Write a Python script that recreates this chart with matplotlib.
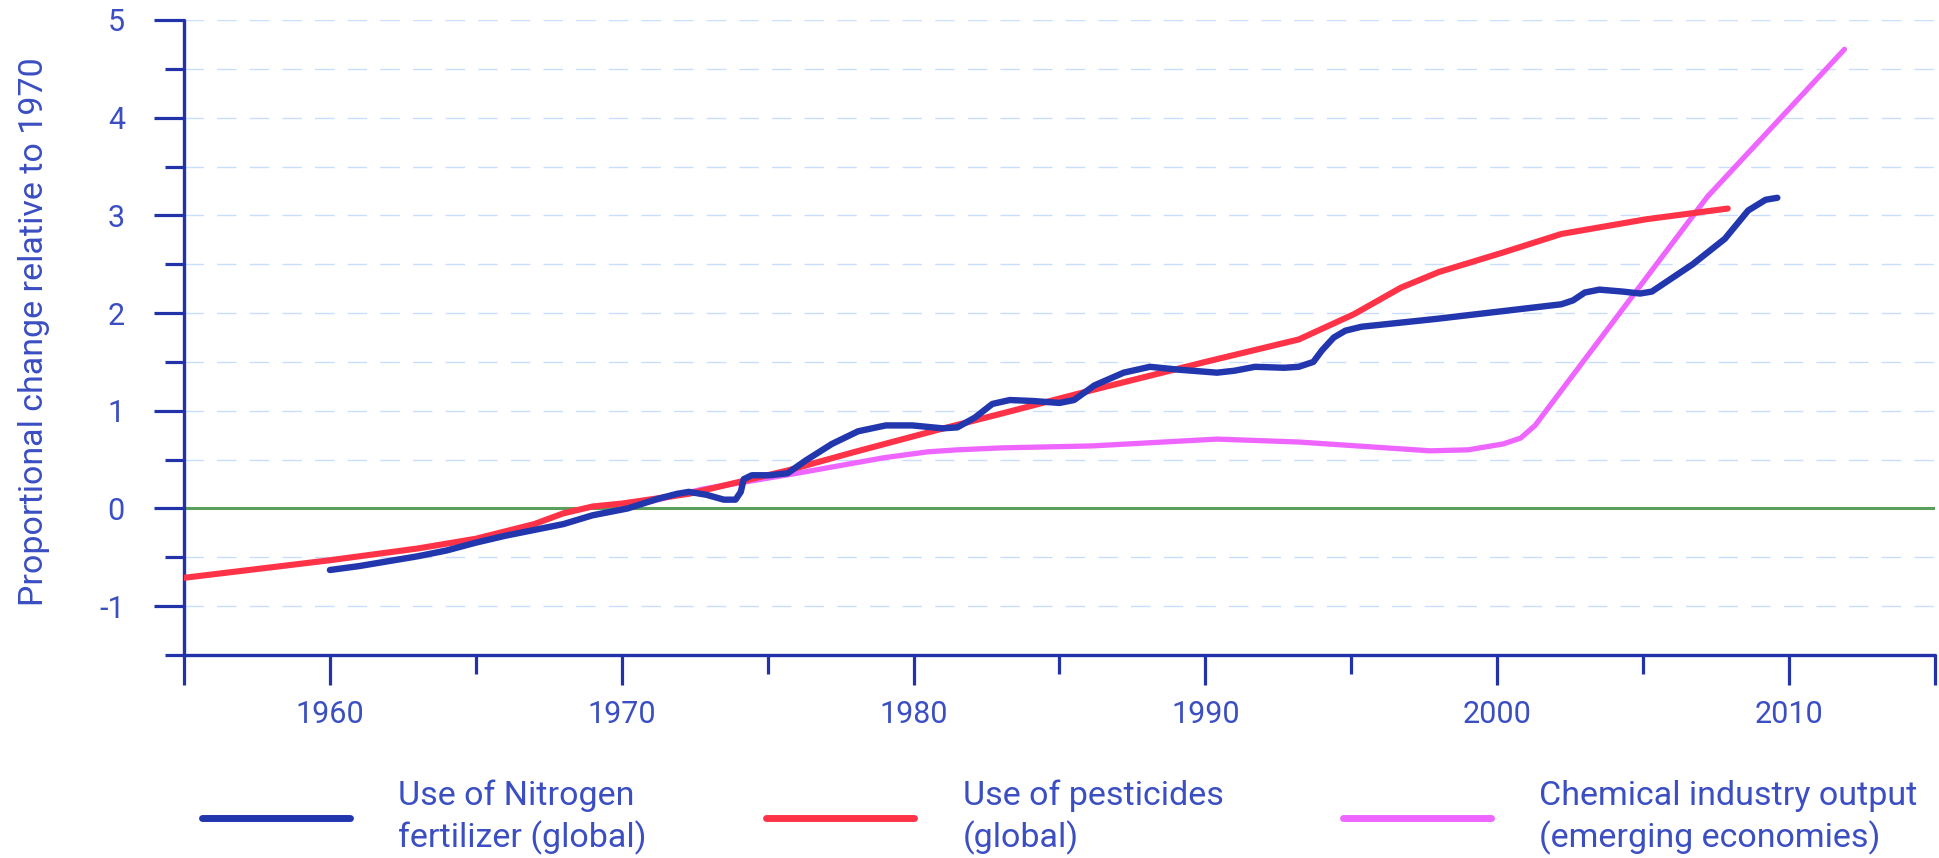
import matplotlib.pyplot as plt
from matplotlib.ticker import FixedLocator

# values (proportional change relative to 1970)
nitrogen_years = [1960, 1961, 1962, 1963, 1964, 1965, 1966, 1967, 1968, 1969,
                  1970.2, 1971.25, 1971.9, 1972.3, 1972.9, 1973.5, 1973.9,
                  1974.08, 1974.18, 1974.46, 1975.07, 1975.68, 1976.3, 1977.2,
                  1978.1, 1979.05, 1979.96, 1981.0, 1981.5, 1982.1, 1982.7,
                  1983.3, 1984.1, 1985.0, 1985.5, 1986.2, 1987.2, 1988.1,
                  1989.1, 1990.4, 1991.0, 1991.7, 1992.7, 1993.2, 1993.7,
                  1994.0, 1994.4, 1994.8, 1995.35, 1997.9, 2002.2, 2002.6,
                  2003.0, 2003.5, 2004.3, 2004.9, 2005.3, 2005.8, 2006.7,
                  2007.8, 2008.6, 2009.2, 2009.6]
nitrogen_vals = [-0.63, -0.59, -0.54, -0.49, -0.43, -0.35, -0.28, -0.22, -0.16,
                 -0.07, 0.0, 0.10, 0.15, 0.17, 0.14, 0.09, 0.09,
                 0.17, 0.30, 0.34, 0.34, 0.36, 0.49, 0.66,
                 0.79, 0.85, 0.85, 0.82, 0.83, 0.93, 1.07,
                 1.11, 1.10, 1.08, 1.11, 1.26, 1.39, 1.45,
                 1.42, 1.39, 1.41, 1.45, 1.44, 1.45, 1.50,
                 1.62, 1.75, 1.82, 1.86, 1.94, 2.09, 2.13,
                 2.21, 2.24, 2.22, 2.20, 2.22, 2.32, 2.50,
                 2.76, 3.05, 3.16, 3.18]

pesticide_years = [1955, 1960, 1963, 1965, 1967, 1968, 1969, 1970, 1972.3,
                   1975.7, 1978, 1980.9, 1983, 1986.1, 1990, 1993.2, 1995.1,
                   1996.7, 1998.0, 2000.2, 2002.2, 2005.1, 2007.9]
pesticide_vals = [-0.71, -0.53, -0.41, -0.31, -0.16, -0.05, 0.02, 0.05, 0.15,
                  0.39, 0.58, 0.81, 0.97, 1.21, 1.50, 1.73, 1.99,
                  2.26, 2.42, 2.62, 2.81, 2.96, 3.07]

chem_years = [1970, 1972.8, 1976, 1979, 1980.5, 1981.5, 1983, 1986.1, 1990.4,
              1993.2, 1997.7, 1999, 2000.2, 2000.8, 2001.3, 2001.6, 2007.2,
              2011.9]
chem_vals = [0.0, 0.20, 0.36, 0.52, 0.58, 0.60, 0.62, 0.64, 0.71,
             0.68, 0.59, 0.60, 0.66, 0.72, 0.85, 0.97, 3.19,
             4.70]

labels = ["Use of Nitrogen\nfertilizer (global)",
          "Use of pesticides\n(global)",
          "Chemical industry output\n(emerging economies)"]

x_major = [1955, 1960, 1970, 1980, 1990, 2000, 2010, 2015]
x_major_labels = ["", "1960", "1970", "1980", "1990", "2000", "2010", ""]
x_minor = [1965, 1975, 1985, 1995, 2005]
y_major = [-1, 0, 1, 2, 3, 4, 5]
y_minor = [-1.5, -0.5, 0.5, 1.5, 2.5, 3.5, 4.5]

AXIS = "#2233AA"
TEXT = "#3B4EC2"
BLUE = "#2236AE"
RED = "#FF3347"
PINK = "#EE66FF"
GREEN = "#5C9E5C"
GRID = "#C9DDFF"

plt.rcParams["font.family"] = ["Roboto", "DejaVu Sans"]
plt.rcParams["font.weight"] = "normal"

fig = plt.figure(figsize=(19.39, 8.58), dpi=100)
ax = fig.add_axes([0.0949, 0.2366, 0.903, 0.7401])

ax.set_xlim(1955, 2015)
ax.set_ylim(-1.5, 5)

ax.plot(chem_years, chem_vals, color=PINK, lw=3.8, solid_capstyle="round",
        solid_joinstyle="round", zorder=3, label=labels[2])
ax.plot(pesticide_years, pesticide_vals, color=RED, lw=4.4, solid_capstyle="round",
        solid_joinstyle="round", zorder=4, label=labels[1])
ax.plot(nitrogen_years, nitrogen_vals, color=BLUE, lw=4.6, solid_capstyle="round",
        solid_joinstyle="round", zorder=5, label=labels[0])
ax.axhline(0, color=GREEN, lw=2.2, zorder=2)

for side in ["top", "right"]:
    ax.spines[side].set_visible(False)
for side in ["left", "bottom"]:
    ax.spines[side].set_color(AXIS)
    ax.spines[side].set_linewidth(2.4)
    ax.spines[side].set_capstyle("round")

ax.xaxis.set_major_locator(FixedLocator(x_major))
ax.set_xticklabels(x_major_labels)
ax.xaxis.set_minor_locator(FixedLocator(x_minor))
ax.yaxis.set_major_locator(FixedLocator(y_major))
ax.set_yticklabels([str(v) for v in y_major])
ax.yaxis.set_minor_locator(FixedLocator(y_minor))

ax.tick_params(axis="both", which="major", length=21.5, width=2.3, color=AXIS,
               labelcolor=TEXT, labelsize=22)
ax.tick_params(axis="both", which="minor", length=13.7, width=2.3, color=AXIS)
ax.tick_params(axis="x", which="major", pad=11)
ax.tick_params(axis="y", which="major", pad=21)

ax.grid(axis="y", which="both", color=GRID, lw=1.0, linestyle=(0, (14, 9.5)), zorder=1)
ax.set_axisbelow(True)

ax.set_ylabel("Proportional change relative to 1970", color=TEXT, fontsize=24.5)
ax.yaxis.set_label_coords(-0.0765, 0.509)

handles, labs = ax.get_legend_handles_labels()
order = [2, 1, 0]
leg = fig.legend([handles[i] for i in order], [labs[i] for i in order],
                 loc="center left", bbox_to_anchor=(0.104, 0.047), ncol=3,
                 frameon=False, fontsize=24.5, handlelength=4.36,
                 handletextpad=1.42, columnspacing=3.5, borderpad=0,
                 borderaxespad=0)
for line in leg.get_lines():
    line.set_linewidth(5.0)
for t in leg.get_texts():
    t.set_color(TEXT)
    t.set_linespacing(1.32)

fig.savefig("out.png", dpi=100)
